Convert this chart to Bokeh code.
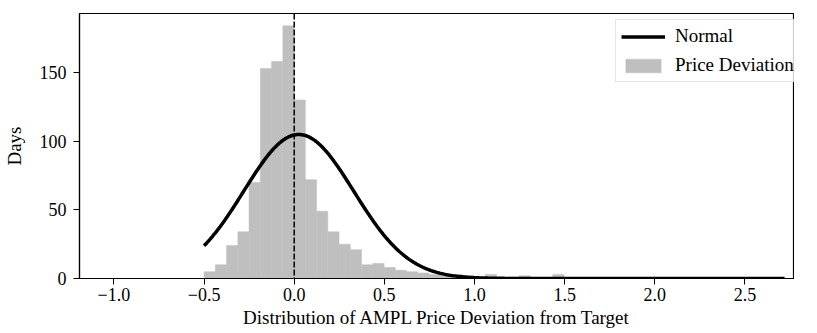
import numpy as np
from bokeh.plotting import figure
from bokeh.models import Range1d, FixedTicker, Span, Legend, LegendItem, ColumnDataSource
from bokeh.embed import file_html
from bokeh.resources import INLINE

# ---- data ----
bin_start = -0.5
bin_width = 0.0624
counts = [5, 10, 24, 34, 70, 153, 158, 184, 130, 72, 49, 34, 25, 21, 10, 11,
          8, 6, 5, 4, 3, 2, 3, 2, 1, 3, 0, 1, 2, 0, 0, 3]
norm_mean = 0.025
norm_std = 0.305
norm_peak = 104.9
curve_start = -0.5
curve_end = 2.72
target = 0.0
x_ticks = [-1.0, -0.5, 0.0, 0.5, 1.0, 1.5, 2.0, 2.5]
x_tick_labels = ["\u22121.0", "\u22120.5", "0.0", "0.5", "1.0", "1.5", "2.0", "2.5"]
y_ticks = [0, 50, 100, 150]

FONT = "Liberation Serif"

edges = bin_start + bin_width * np.arange(len(counts) + 1)
hist_src = ColumnDataSource(dict(left=edges[:-1], right=edges[1:], top=counts,
                                 bottom=[0] * len(counts)))
xs = np.linspace(curve_start, curve_end, 400)
ys = norm_peak * np.exp(-((xs - norm_mean) ** 2) / (2 * norm_std ** 2))

p = figure(width=794, height=333,
           x_range=Range1d(-1.191, 2.775), y_range=Range1d(0, 193.0),
           output_backend="svg", toolbar_location=None,
           min_border_left=69, min_border_right=0, min_border_top=13, min_border_bottom=55)

p.background_fill_color = "white"
p.border_fill_color = "white"
p.outline_line_color = "black"
p.outline_line_width = 1.2
p.xgrid.visible = False
p.ygrid.visible = False

hist_r = p.quad(left="left", right="right", top="top", bottom="bottom", source=hist_src,
                fill_color="#bfbfbf", line_color="#bfbfbf", line_width=0.5)
line_r = p.line(xs, ys, line_color="black", line_width=3.5)

p.add_layout(Span(location=target, dimension="height", line_color="black",
                  line_width=1.5, line_dash="6 2"))

p.xaxis.ticker = FixedTicker(ticks=x_ticks)
p.xaxis.major_label_overrides = {t: l for t, l in zip(x_ticks, x_tick_labels)}
p.yaxis.ticker = FixedTicker(ticks=y_ticks)

for ax in (p.xaxis[0], p.yaxis[0]):
    ax.minor_tick_line_color = None
    ax.major_tick_out = 6
    ax.major_tick_in = 0
    ax.major_tick_line_color = "black"
    ax.axis_line_color = "black"
    ax.axis_line_width = 1.2
    ax.major_label_text_font = FONT
    ax.major_label_text_font_size = "18px"
    ax.major_label_text_color = "black"
    ax.axis_label_text_font = FONT
    ax.axis_label_text_font_size = "19px"
    ax.axis_label_text_font_style = "normal"
    ax.axis_label_text_color = "black"

p.xaxis.axis_label = "Distribution of AMPL Price Deviation from Target"
p.yaxis.axis_label = "Days"
p.xaxis.major_label_standoff = 3
p.xaxis.axis_label_standoff = 3
p.yaxis.major_label_standoff = 7
p.yaxis.axis_label_standoff = 12

legend = Legend(items=[LegendItem(label="Normal", renderers=[line_r]),
                       LegendItem(label="Price Deviation", renderers=[hist_r])],
                location=(536, 196))
legend.label_text_font = FONT
legend.label_text_font_size = "19px"
legend.label_text_color = "black"
legend.glyph_width = 44
legend.glyph_height = 17
legend.label_height = 20
legend.label_width = 122
legend.label_standoff = 10
legend.spacing = 7
legend.padding = 5
legend.margin = 0
legend.border_line_color = "#cccccc"
legend.border_line_width = 1
legend.background_fill_alpha = 0.8
p.add_layout(legend)

open("out.html", "w").write(file_html(p, INLINE))
